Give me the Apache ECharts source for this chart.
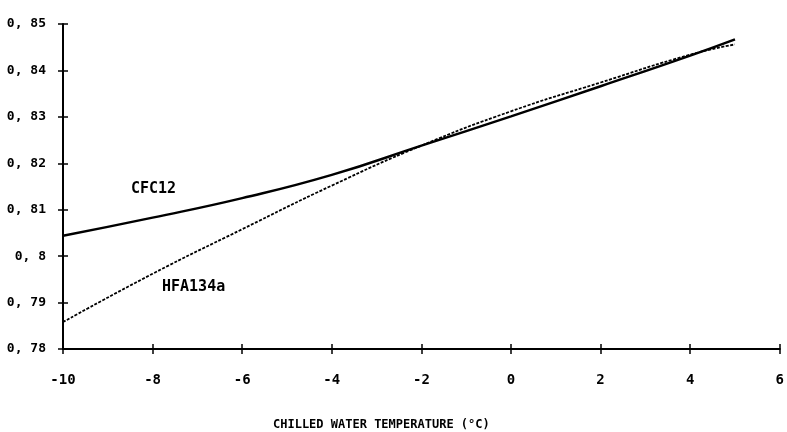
<!DOCTYPE html>
<html>
<head>
<meta charset="utf-8">
<script src="https://cdn.jsdelivr.net/npm/echarts@6/dist/echarts.min.js"></script>
<style>
  html, body { margin: 0; padding: 0; background: #fff; }
  #chart { width: 787px; height: 432px; }
</style>
</head>
<body>
<div id="chart"></div>
<script>
// chilled water temperature (°C)
var temps = [-10, -8, -6, -4, -2, 0, 2, 4, 5];
// values
var cfc12 = [0.8044, 0.8083, 0.8125, 0.8175, 0.8238, 0.8301, 0.8366, 0.8432, 0.8467];
var hfa134a = [0.7858, 0.7962, 0.8058, 0.8152, 0.8238, 0.8312, 0.8374, 0.8434, 0.8456];
var seriesNames = ['CFC12', 'HFA134a'];
var xTitle = 'CHILLED WATER TEMPERATURE (°C)';

var font = 'DejaVu Sans Mono';

function pairs(xs, ys) {
    return xs.map(function (x, i) { return [x, ys[i]]; });
}

var chart = echarts.init(document.getElementById('chart'));

// base axis with labels + ticks outside; overlay axis pulled 5px inward so its ticks
// reach back to the line (gives the "+" ticks of the plotter)
function xAx(overlay) {
    return {
        type: 'value', position: 'bottom', min: -10, max: 6, interval: 2,
        offset: overlay ? -5 : 0,
        axisLine: { show: !overlay, onZero: false, lineStyle: { color: '#000', width: 2 } },
        axisTick: { show: true, length: 5, lineStyle: { color: '#000', width: 1.5 } },
        axisLabel: {
            show: !overlay, margin: 24, color: '#000',
            fontFamily: font, fontWeight: 'bold', fontSize: 14
        },
        splitLine: { show: false }
    };
}
function yAx(overlay) {
    return {
        type: 'value', position: 'left', min: 0.78, max: 0.85, interval: 0.01,
        offset: overlay ? -5 : 0,
        axisLine: { show: !overlay, onZero: false, lineStyle: { color: '#000', width: 2 } },
        axisTick: { show: true, length: 5, lineStyle: { color: '#000', width: 1.5 } },
        axisLabel: {
            show: !overlay, margin: 17, color: '#000',
            fontFamily: font, fontWeight: 'bold', fontSize: 13,
            formatter: function (v) {
                return v.toFixed(2).replace(/0$/, '').replace('.', ', ');
            }
        },
        splitLine: { show: false }
    };
}

var option = {
    backgroundColor: '#fff',
    animation: false,
    grid: { left: 63, right: 5, top: 24, bottom: 83 },
    title: {
        text: xTitle,
        left: 268, top: 414,
        textStyle: { fontFamily: font, fontWeight: 'bold', fontSize: 12, color: '#000' }
    },
    xAxis: [xAx(false), xAx(true)],
    yAxis: [yAx(false), yAx(true)],
    series: [{
        name: seriesNames[0],
        type: 'line',
        smooth: true,
        symbol: 'none',
        data: pairs(temps, cfc12),
        lineStyle: { color: '#000', width: 2.5 }
    }, {
        name: seriesNames[1],
        type: 'line',
        smooth: true,
        symbol: 'none',
        data: pairs(temps, hfa134a),
        lineStyle: { color: '#000', width: 1.8, type: [3, 1.5] }
    }],
    graphic: [{
        type: 'text', left: 131, top: 182,
        style: { text: seriesNames[0], fill: '#000', font: 'bold 15px ' + font }
    }, {
        type: 'text', left: 162, top: 280,
        style: { text: seriesNames[1], fill: '#000', font: 'bold 15px ' + font }
    }]
};

chart.setOption(option);
</script>
</body>
</html>
